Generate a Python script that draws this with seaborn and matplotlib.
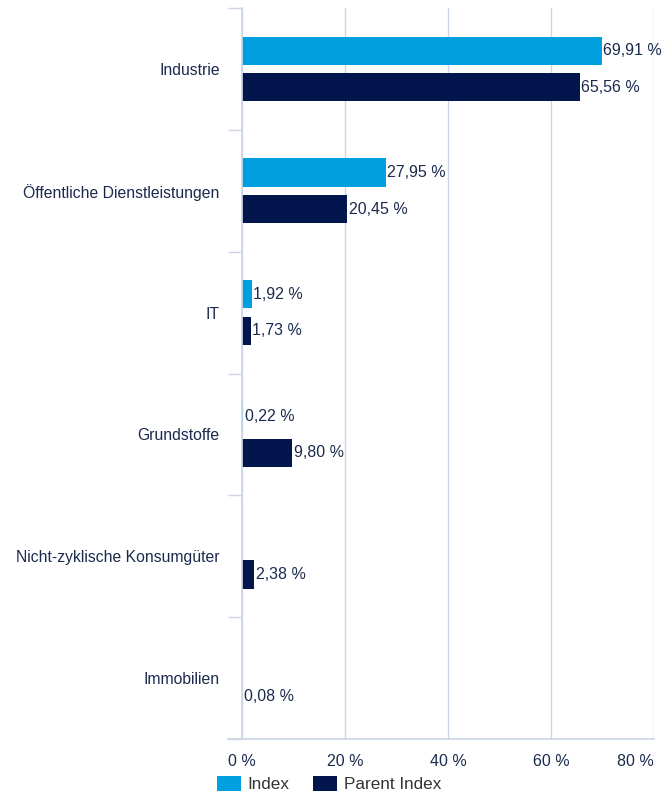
import matplotlib
matplotlib.use('Agg')
import matplotlib.pyplot as plt
import seaborn as sns
import pandas as pd
import numpy as np
from matplotlib.patches import Patch

# data
categories = ['Industrie', 'Öffentliche Dienstleistungen', 'IT', 'Grundstoffe',
              'Nicht-zyklische Konsumgüter', 'Immobilien']
index_values = [69.91, 27.95, 1.92, 0.22, None, None]
parent_values = [65.56, 20.45, 1.73, 9.80, 2.38, 0.08]
series_names = ['Index', 'Parent Index']
x_ticks = [0, 20, 40, 60, 80]

colors = {'Index': '#009fe0', 'Parent Index': '#02154d'}
text_color = '#1b2a4e'
grid_color = '#ccd6e6'

rows = []
for cat, iv, pv in zip(categories, index_values, parent_values):
    rows.append({'Sektor': cat, 'Serie': 'Index', 'Wert': iv})
    rows.append({'Sektor': cat, 'Serie': 'Parent Index', 'Wert': pv})
df = pd.DataFrame(rows).dropna()

sns.set_theme(style='white')
plt.rcParams['font.family'] = ['Liberation Sans', 'DejaVu Sans']

fig = plt.figure(figsize=(6.71, 7.95), dpi=100)
ax = fig.add_axes([0.3607, 0.0704, 0.6140, 0.9195])

sns.barplot(data=df, y='Sektor', x='Wert', hue='Serie', order=categories,
            hue_order=series_names, palette=colors, saturation=1, orient='h',
            width=0.6, gap=0.23, linewidth=0, errorbar=None, legend=False, ax=ax)

# value labels with German decimal comma
for container in ax.containers:
    labels = []
    for bar in container:
        w = bar.get_width()
        labels.append('' if np.isnan(w) else f'{w:.2f} %'.replace('.', ','))
    ax.bar_label(container, labels=labels, padding=1, fontsize=11.5, color=text_color)

ax.set_xlim(0, 80)
ax.set_ylim(5.5, -0.5)
ax.set_xlabel('')
ax.set_ylabel('')

ax.set_xticks(x_ticks)
ax.set_xticklabels([f'{t} %' for t in x_ticks], fontsize=11.5, color=text_color)
ax.get_xticklabels()[-1].set_ha('right')
ax.tick_params(axis='x', length=0, pad=11)

ax.set_yticks(range(len(categories)))
ax.set_yticklabels(categories, fontsize=11.3, color=text_color)
ax.tick_params(axis='y', which='major', left=True, length=0, pad=16)
ax.set_yticks(np.arange(-0.5, len(categories), 1), minor=True)
ax.tick_params(axis='y', which='minor', left=True, length=10, width=1,
               color=grid_color, direction='out')

ax.xaxis.grid(True, color=grid_color, linewidth=1)
ax.yaxis.grid(False)
ax.set_axisbelow(True)

for side in ['top', 'right']:
    ax.spines[side].set_visible(False)
ax.spines['left'].set_color(grid_color)
ax.spines['bottom'].set_color(grid_color)
ax.spines['bottom'].set_bounds(-2.72, 80)

handles = [Patch(facecolor=colors[s], edgecolor='none', label=s) for s in series_names]
fig.legend(handles=handles, loc='center left', bbox_to_anchor=(0.3234, 0.0138),
           ncol=2, frameon=False, fontsize=12.3, labelcolor='#333333',
           handlelength=1.4, handleheight=1.05, handletextpad=0.4,
           columnspacing=1.35, borderpad=0, borderaxespad=0)

fig.savefig('out.png', dpi=100)
